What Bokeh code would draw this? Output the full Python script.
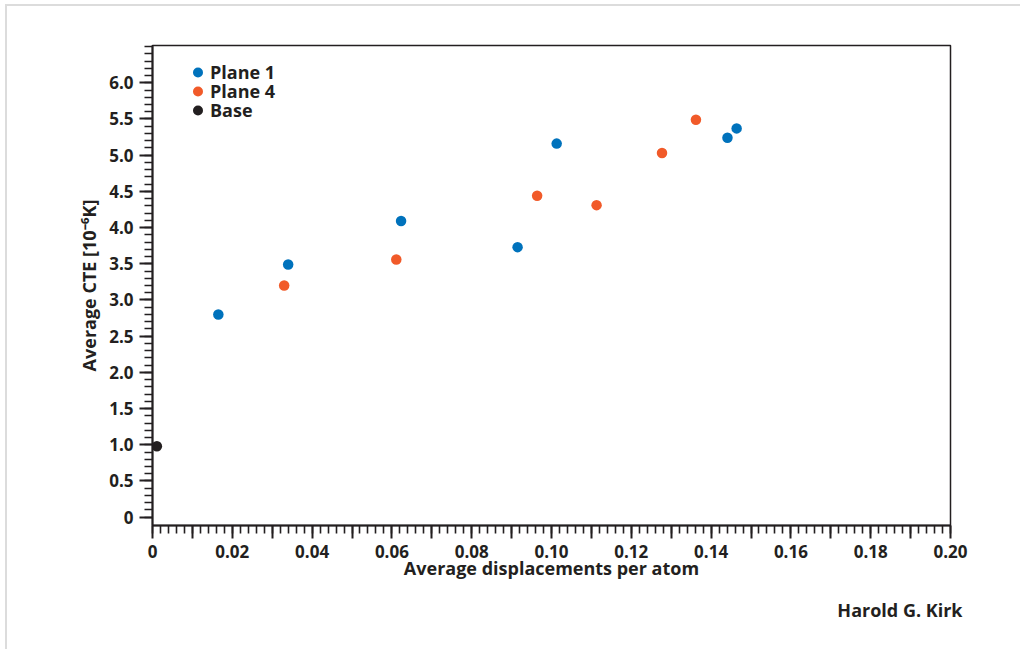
from bokeh.plotting import figure
from bokeh.models import (Range1d, FixedTicker, CustomJSTickFormatter, Legend, LegendItem,
                          Title, ColumnDataSource)
from bokeh.embed import file_html
from bokeh.resources import INLINE

# ---- data ----
plane1_x = [0.0165, 0.0340, 0.0623, 0.0915, 0.1013, 0.1441, 0.1464]
plane1_y = [2.80, 3.49, 4.09, 3.73, 5.16, 5.24, 5.37]
plane4_x = [0.0330, 0.0611, 0.0964, 0.1113, 0.1277, 0.1362]
plane4_y = [3.20, 3.56, 4.44, 4.31, 5.03, 5.49]
base_x = [0.0011]
base_y = [0.98]

x_major = [i / 100 for i in range(0, 21)]
x_minor = [i / 500 for i in range(0, 101)]
y_major = [i / 2 for i in range(0, 13)]
y_minor = [i / 10 for i in range(0, 66)]

series_names = ["Plane 1", "Plane 4", "Base"]
colors = ["#0072bc", "#f15a29", "#231f20"]
TXT = "#231f20"
FONT = "Open Sans"

p = figure(width=1015, height=645, output_backend="svg", toolbar_location=None,
           x_range=Range1d(0, 0.2), y_range=Range1d(-0.115, 6.515),
           min_border_left=145, min_border_right=72, min_border_top=39, min_border_bottom=126,
           background_fill_color="white", border_fill_color="white")
p.styles = {"border-top": "2px solid #dcdcdc", "border-left": "2px solid #dcdcdc",
            "margin-left": "5px", "margin-top": "4px"}

p.xgrid.visible = False
p.ygrid.visible = False
p.outline_line_color = TXT
p.outline_line_width = 1.5

src1 = ColumnDataSource(dict(x=plane1_x, y=plane1_y))
src4 = ColumnDataSource(dict(x=plane4_x, y=plane4_y))
srcb = ColumnDataSource(dict(x=base_x, y=base_y))
r1 = p.scatter("x", "y", source=src1, size=10.5, color=colors[0], line_color=None)
r4 = p.scatter("x", "y", source=src4, size=10.5, color=colors[1], line_color=None)
rb = p.scatter("x", "y", source=srcb, size=10.5, color=colors[2], line_color=None)

for ax in (p.xaxis[0], p.yaxis[0]):
    ax.axis_line_color = TXT
    ax.axis_line_width = 2
    ax.major_tick_line_color = TXT
    ax.minor_tick_line_color = TXT
    ax.major_tick_line_width = 2
    ax.minor_tick_line_width = 1.6
    ax.major_tick_in = 0
    ax.major_tick_out = 13
    ax.minor_tick_in = 0
    ax.minor_tick_out = 8
    ax.major_label_text_font = FONT
    ax.major_label_text_font_style = "bold"
    ax.major_label_text_font_size = "17px"
    ax.major_label_text_color = TXT
    ax.axis_label_text_font = FONT
    ax.axis_label_text_font_style = "bold"
    ax.axis_label_text_font_size = "18px"
    ax.axis_label_text_color = TXT

p.xaxis[0].ticker = FixedTicker(ticks=x_major, minor_ticks=x_minor)
p.xaxis[0].formatter = CustomJSTickFormatter(code="""
const k = Math.round(tick * 100);
if (k % 2 !== 0) return '';
if (k === 0) return '0';
return tick.toFixed(2);
""")
p.xaxis[0].axis_label = "Average displacements per atom"
p.xaxis[0].axis_label_standoff = -5
p.xaxis[0].major_label_standoff = 6

p.yaxis[0].ticker = FixedTicker(ticks=y_major, minor_ticks=y_minor)
p.yaxis[0].formatter = CustomJSTickFormatter(code="""
if (Math.abs(tick) < 1e-9) return '0';
return tick.toFixed(1);
""")
p.yaxis[0].axis_label = "Average CTE [10\u207b\u2076K]"
p.yaxis[0].axis_label_standoff = 5
p.yaxis[0].major_label_standoff = 6

# one small legend per series, stacked 19 px apart
for i, (name, r) in enumerate(zip(series_names, [r1, r4, rb])):
    lg = Legend(items=[LegendItem(label=name, renderers=[r])],
                location=(33, 440 - 19 * i), orientation="vertical",
                border_line_color=None, background_fill_alpha=0,
                padding=0, margin=0, spacing=0,
                glyph_width=25, glyph_height=26, label_height=19,
                label_standoff=0,
                label_text_font=FONT, label_text_font_style="bold",
                label_text_font_size="18px", label_text_color=TXT)
    p.add_layout(lg)

credit = Title(text="Harold G. Kirk", align="right", offset=-12, standoff=26,
               text_font=FONT, text_font_style="bold", text_font_size="18px",
               text_color=TXT)
p.add_layout(credit, "below")

open("out.html", "w").write(file_html(p, INLINE))
